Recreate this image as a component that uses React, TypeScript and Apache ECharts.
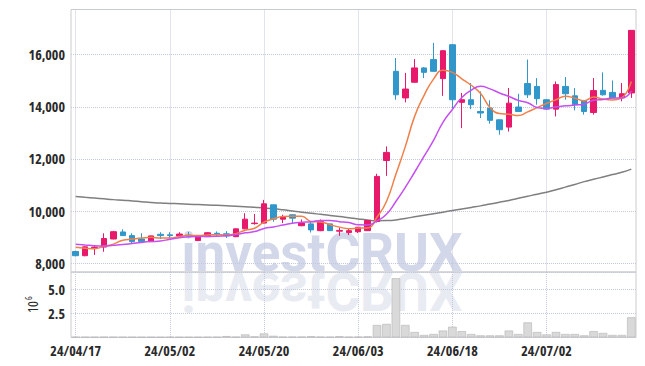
import React, { useEffect, useRef } from "react";
import * as echarts from "echarts";

const dates = [
  "24/04/17", "24/04/18", "24/04/19", "24/04/22", "24/04/23", "24/04/24", "24/04/25", "24/04/26", "24/04/29", "24/04/30",
  "24/05/02", "24/05/03", "24/05/07", "24/05/08", "24/05/09", "24/05/10", "24/05/13", "24/05/14", "24/05/16", "24/05/17",
  "24/05/20", "24/05/21", "24/05/22", "24/05/23", "24/05/24", "24/05/27", "24/05/28", "24/05/29", "24/05/30", "24/05/31",
  "24/06/03", "24/06/04", "24/06/05", "24/06/07", "24/06/10", "24/06/11", "24/06/12", "24/06/13", "24/06/14", "24/06/17",
  "24/06/18", "24/06/19", "24/06/20", "24/06/21", "24/06/24", "24/06/25", "24/06/26", "24/06/27", "24/06/28", "24/07/01",
  "24/07/02", "24/07/03", "24/07/04", "24/07/05", "24/07/08", "24/07/09", "24/07/10", "24/07/11", "24/07/12", "24/07/15",
];

const opens = [
  8450, 8290, 8600, 8620, 8930, 9200, 9060, 8930, 8830, 9110,
  9090, 9050, 9080, 8870, 9020, 9150, 9130, 9020, 9320, 9520,
  9540, 10240, 9690, 9860, 9440, 9510, 9250, 9510, 9230, 9175,
  9210, 9250, 9600, 11940, 15360, 14340, 14940, 15490, 15810, 15080,
  16380, 14170, 14270, 13820, 13950, 13500, 13220, 13990, 14890, 14780,
  14270, 13910, 14780, 14420, 14240, 13780, 14630, 14550, 14340, 14530,
];
const closes = [
  8290, 8630, 8620, 8950, 9210, 9060, 8830, 8830, 9050, 9060,
  9060, 9120, 9060, 9020, 9170, 9110, 9050, 9320, 9690, 9540,
  10280, 9690, 9770, 9730, 9540, 9280, 9600, 9250, 9260, 9250,
  9380, 9640, 11330, 12250, 14460, 14680, 15490, 15320, 15360, 16150,
  14270, 14270, 14080, 13760, 13480, 13120, 14140, 13820, 14460, 14310,
  13910, 14850, 14500, 14080, 13820, 14620, 14460, 14340, 14500, 16930,
];
const lows = [
  8270, 8270, 8320, 8440, 8920, 9050, 8770, 8790, 8820, 8930,
  8950, 9000, 8990, 8860, 9010, 9020, 8970, 9000, 9300, 9480,
  9530, 9590, 9540, 9540, 9420, 9180, 9230, 9240, 9050, 9080,
  9160, 9240, 9560, 11350, 14270, 14170, 14920, 15100, 15340, 14420,
  13890, 13180, 13910, 13570, 13350, 12930, 13050, 13800, 14340, 14080,
  13880, 13630, 14270, 13860, 13700, 13700, 14430, 14330, 14210, 14340,
];
const highs = [
  8480, 8650, 8700, 9150, 9240, 9300, 9150, 9150, 9060, 9190,
  9190, 9190, 9200, 9030, 9190, 9220, 9230, 9330, 9920, 9890,
  10430, 10250, 9860, 9870, 9680, 9600, 9680, 9520, 9370, 9330,
  9390, 9650, 11430, 12480, 15870, 15300, 15830, 15520, 16450, 16170,
  16400, 14530, 14910, 14590, 14250, 13520, 14720, 14500, 15810, 15100,
  14300, 14970, 15140, 14720, 14260, 15100, 15320, 15010, 14910, 16940,
];

const ma5 = [
  8610, 8580, 8560, 8650, 8734, 8882, 8926, 8968, 8994, 8966,
  8966, 9024, 9070, 9064, 9086, 9096, 9082, 9134, 9268, 9342,
  9576, 9704, 9794, 9802, 9802, 9602, 9584, 9480, 9386, 9328,
  9348, 9356, 9772, 10370, 11412, 12472, 13642, 14440, 15062, 15400,
  15318, 15074, 14826, 14506, 13972, 13742, 13716, 13664, 13804, 13970,
  14128, 14270, 14406, 14330, 14232, 14374, 14296, 14264, 14348, 14970,
];
const ma10 = [
  8730, 8700, 8670, 8660, 8690, 8720, 8760, 8800, 8830, 8850,
  8924, 8975, 9019, 9029, 9026, 9031, 9053, 9102, 9166, 9214,
  9336, 9393, 9464, 9535, 9572, 9589, 9644, 9637, 9594, 9565,
  9475, 9470, 9626, 9878, 10370, 10910, 11499, 12106, 12716, 13406,
  13895, 14358, 14633, 14784, 14686, 14530, 14395, 14245, 14155, 13971,
  13935, 13993, 14035, 14067, 14101, 14251, 14283, 14335, 14339, 14601,
];
const maLong = [
  10560, 10530, 10500, 10470, 10440, 10420, 10390, 10360, 10330, 10310,
  10295, 10280, 10265, 10250, 10235, 10220, 10205, 10190, 10170, 10145,
  10120, 10090, 10050, 10005, 9960, 9920, 9875, 9830, 9790, 9745,
  9700, 9660, 9630, 9635, 9660, 9720, 9780, 9840, 9900, 9960,
  10020, 10080, 10140, 10200, 10270, 10340, 10410, 10490, 10570, 10650,
  10720, 10820, 10920, 11020, 11130, 11220, 11310, 11400, 11490, 11610,
];

// volume in millions of shares
const volumes = [
  0.03, 0.03, 0.03, 0.04, 0.03, 0.03, 0.03, 0.02, 0.02, 0.02,
  0.02, 0.02, 0.02, 0.02, 0.03, 0.03, 0.12, 0.05, 0.3, 0.08,
  0.4, 0.15, 0.05, 0.05, 0.05, 0.1, 0.05, 0.04, 0.1, 0.04,
  0.05, 0.08, 1.28, 1.39, 6.15, 1.28, 0.55, 0.24, 0.34, 0.7,
  1.1, 0.64, 0.34, 0.2, 0.2, 0.2, 0.7, 0.34, 1.55, 0.55,
  0.3, 0.55, 0.34, 0.34, 0.2, 0.64, 0.45, 0.24, 0.24, 2.08,
];

const priceTickStep = 2000;
const volumeTicks = [2.5, 5.0];

const UP = "#e8196a";
const DOWN = "#3196c9";
const GRID_LINE = "#c3c8da";
const BORDER = "#cccccc";
const LABEL_FAMILY = "'Open Sans', sans-serif";

export default function App() {
  const ref = useRef<HTMLDivElement>(null);

  useEffect(() => {
    if (!ref.current) return;
    const chart = echarts.init(ref.current, undefined, { renderer: "svg" });
    const candles = opens.map((o, i) => [o, closes[i], lows[i], highs[i]]);

    const labelStyle = {
      fontFamily: LABEL_FAMILY,
      fontWeight: "bold" as const,
      fontSize: 14,
      color: "#2a2a2a",
    };
    const splitV = {
      show: true,
      interval: 9,
      alignWithLabel: true,
      lineStyle: { type: "dotted" as const, color: GRID_LINE, width: 1 },
    };

    chart.setOption({
      animation: false,
      backgroundColor: "#ffffff",
      grid: [
        { left: 71, right: 9, top: 9.5, height: 262.5, show: true, borderColor: BORDER, borderWidth: 1 },
        { left: 71, right: 9, top: 272, bottom: 28.7, show: true, borderColor: BORDER, borderWidth: 1 },
      ],
      graphic: [
        {
          type: "text",
          z: 0,
          silent: true,
          x: 322,
          y: 253,
          style: {
            text: "investCRUX",
            font: "bold 53px Roboto",
            fill: "#d2d7e9",
            align: "center",
            verticalAlign: "middle",
          },
        },
        {
          type: "group",
          silent: true,
          x: 0,
          y: 272,
          scaleY: -1,
          children: [
            {
              type: "text",
              z: 0,
              x: 322,
              y: -19,
              style: {
                text: "investCRUX",
                font: "bold 53px Roboto",
                fill: "#e9ebf3",
                align: "center",
                verticalAlign: "middle",
              },
            },
          ],
        },
        {
          type: "group",
          x: 32,
          y: 313,
          rotation: Math.PI / 2,
          children: [
            {
              type: "text",
              x: 0,
              y: 0,
              style: {
                text: "10",
                font: "condensed 14px 'Open Sans'",
                fill: "#2a2a2a",
                align: "left",
                verticalAlign: "middle",
              },
            },
            {
              type: "text",
              x: 13,
              y: -4,
              style: {
                text: "6",
                font: "condensed 9px 'Open Sans'",
                fill: "#2a2a2a",
                align: "left",
                verticalAlign: "middle",
              },
            },
          ],
        },
      ],
      xAxis: [
        {
          type: "category",
          gridIndex: 0,
          data: dates,
          boundaryGap: true,
          axisLine: { show: false },
          axisTick: { show: false },
          axisLabel: { show: false },
          splitLine: splitV,
        },
        {
          type: "category",
          gridIndex: 1,
          data: dates,
          boundaryGap: true,
          axisLine: { show: false },
          axisTick: { show: false },
          axisLabel: { ...labelStyle, interval: 9, margin: 6 },
          splitLine: splitV,
        },
      ],
      yAxis: [
        {
          type: "value",
          gridIndex: 0,
          min: 7665,
          max: 17730,
          splitNumber: 5,
          axisLine: { show: false },
          axisTick: { show: false },
          axisLabel: {
            ...labelStyle,
            margin: 6,
            showMinLabel: false,
            showMaxLabel: false,
            formatter: (v: number) => (v % priceTickStep === 0 ? v.toLocaleString("en-US") : ""),
          },
          splitLine: { show: true, lineStyle: { type: "dotted", color: GRID_LINE } },
        },
        {
          type: "value",
          gridIndex: 1,
          min: 0,
          max: 6.8,
          interval: 2.5,
          axisLine: { show: false },
          axisTick: { show: false },
          axisLabel: {
            ...labelStyle,
            margin: 6,
            formatter: (v: number) => (volumeTicks.includes(v) ? v.toFixed(1) : ""),
          },
          splitLine: { show: true, lineStyle: { type: "dotted", color: GRID_LINE } },
        },
      ],
      series: [
        {
          type: "line",
          name: "MA120",
          xAxisIndex: 0,
          yAxisIndex: 0,
          data: maLong,
          smooth: true,
          symbol: "none",
          lineStyle: { color: "#7f7f7f", width: 1.5 },
          z: 3,
        },
        {
          type: "candlestick",
          xAxisIndex: 0,
          yAxisIndex: 0,
          data: candles,
          barWidth: "64%",
          itemStyle: {
            color: UP,
            color0: DOWN,
            borderColor: UP,
            borderColor0: DOWN,
            borderWidth: 1,
          },
          z: 4,
        },
        {
          type: "line",
          name: "MA5",
          xAxisIndex: 0,
          yAxisIndex: 0,
          data: ma5,
          smooth: true,
          symbol: "none",
          lineStyle: { color: "#ef8049", width: 1.5 },
          z: 5,
        },
        {
          type: "line",
          name: "MA10",
          xAxisIndex: 0,
          yAxisIndex: 0,
          data: ma10,
          smooth: true,
          symbol: "none",
          lineStyle: { color: "#c64ff0", width: 1.5 },
          z: 5,
        },
        {
          type: "bar",
          xAxisIndex: 1,
          yAxisIndex: 1,
          data: volumes,
          barWidth: "90%",
          itemStyle: { color: "#d9d9d9", borderColor: "#b3b3b3", borderWidth: 0.6 },
        },
      ],
    });

    return () => chart.dispose();
  }, []);

  return (
    <div
      ref={ref}
      style={{
        position: "fixed",
        left: 0,
        top: 0,
        width: 645,
        height: 366,
        background: "#fff",
        fontStretch: "condensed",
      }}
    />
  );
}
